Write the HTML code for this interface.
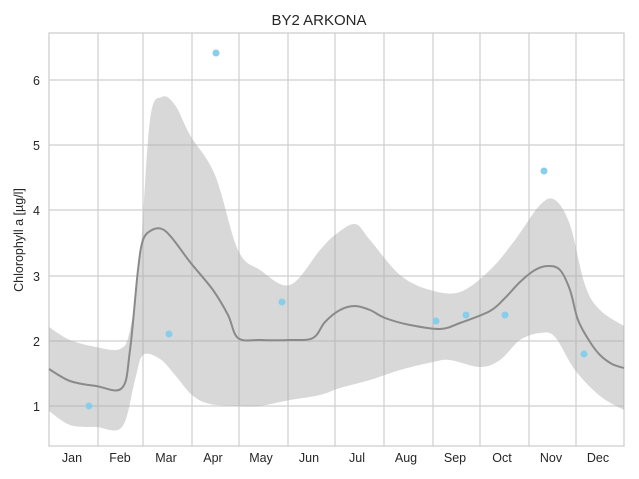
<!DOCTYPE html>
<html><head><meta charset="utf-8"><style>
body{margin:0;background:#fff;}
svg{display:block;font-family:"Liberation Sans",sans-serif;}
</style></head><body>
<svg id="s" width="639" height="479" xmlns="http://www.w3.org/2000/svg">
<rect width="639" height="479" fill="#fff"/>
<text x="319" y="25" font-size="15" text-anchor="middle" fill="#262626">BY2 ARKONA</text>
<g stroke="#cfcfcf" stroke-width="1.2">
<line x1="49" y1="406" x2="624" y2="406"/><line x1="49" y1="341" x2="624" y2="341"/>
<line x1="49" y1="276" x2="624" y2="276"/><line x1="49" y1="210" x2="624" y2="210"/>
<line x1="49" y1="145" x2="624" y2="145"/><line x1="49" y1="80" x2="624" y2="80"/>
<line x1="98" y1="33" x2="98" y2="446"/><line x1="143" y1="33" x2="143" y2="446"/>
<line x1="192" y1="33" x2="192" y2="446"/><line x1="239" y1="33" x2="239" y2="446"/>
<line x1="288" y1="33" x2="288" y2="446"/><line x1="335" y1="33" x2="335" y2="446"/>
<line x1="384" y1="33" x2="384" y2="446"/><line x1="433" y1="33" x2="433" y2="446"/>
<line x1="480" y1="33" x2="480" y2="446"/><line x1="529" y1="33" x2="529" y2="446"/>
<line x1="576" y1="33" x2="576" y2="446"/>
</g>
<rect x="49" y="33" width="575" height="413" fill="none" stroke="#cacaca" stroke-width="1.2"/>
<path id="band" fill="#a8a8a8" fill-opacity="0.45" d=""/>
<path id="mean" fill="none" stroke="#8a8a8a" stroke-width="2" d=""/>
<g fill="#87ceeb">
<circle cx="89" cy="406" r="3.5"/><circle cx="169" cy="334" r="3.5"/><circle cx="216" cy="53" r="3.5"/>
<circle cx="282" cy="302" r="3.5"/><circle cx="436" cy="321" r="3.5"/><circle cx="466" cy="315" r="3.5"/>
<circle cx="505" cy="315" r="3.5"/><circle cx="544" cy="171" r="3.5"/><circle cx="584" cy="354" r="3.5"/>
</g>
<g font-size="12.5" fill="#262626" text-anchor="end">
<text x="40" y="411">1</text><text x="40" y="346">2</text><text x="40" y="281">3</text>
<text x="40" y="215">4</text><text x="40" y="150">5</text><text x="40" y="85">6</text>
</g>
<g font-size="12.5" fill="#262626" text-anchor="middle">
<text x="72" y="462">Jan</text><text x="120" y="462">Feb</text><text x="166" y="462">Mar</text>
<text x="213" y="462">Apr</text><text x="261" y="462">May</text><text x="309" y="462">Jun</text>
<text x="357" y="462">Jul</text><text x="406" y="462">Aug</text><text x="455" y="462">Sep</text>
<text x="502" y="462">Oct</text><text x="551" y="462">Nov</text><text x="598" y="462">Dec</text>
</g>
<text transform="translate(23,240) rotate(-90)" font-size="12.5" fill="#262626" text-anchor="middle">Chlorophyll a [µg/l]</text>
</svg>
<script>
function sm(p){var d="M"+p[0][0]+","+p[0][1];for(var i=0;i<p.length-1;i++){var a=p[i-1]||p[i],b=p[i],c=p[i+1],e=p[i+2]||c;
d+=" C"+(b[0]+(c[0]-a[0])/6).toFixed(1)+","+(b[1]+(c[1]-a[1])/6).toFixed(1)+" "+(c[0]-(e[0]-b[0])/6).toFixed(1)+","+(c[1]-(e[1]-b[1])/6).toFixed(1)+" "+c[0]+","+c[1];}return d;}
var up=[[49,327],[70,340],[96,347],[120,349],[130,330],[140,260],[150,120],[162,97],[175,105],[190,135],[215,175],[238,250],[260,270],[290,285],[320,250],[335,235],[355,224],[370,240],[400,275],[430,290],[460,292],[490,270],[515,240],[540,205],[555,200],[570,225],[585,285],[600,310],[624,326]];
var lo=[[49,411],[70,425],[96,427],[122,427],[135,380],[143,355],[160,359],[175,375],[192,395],[210,404],[238,406],[260,406],[290,400],[320,395],[340,388],[370,380],[400,370],[433,362],[450,360],[480,367],[500,360],[520,340],[540,333],[555,337],[575,370],[600,396],[624,410]];
var mn=[[49,369],[70,381],[96,386],[122,388],[130,350],[138,270],[143,240],[152,230],[162,229],[172,238],[190,262],[213,290],[228,315],[238,338],[260,340],[290,340],[313,338],[325,322],[340,310],[355,306],[370,310],[385,318],[410,325],[440,329],[460,323],[490,311],[505,298],[520,282],[535,270],[548,266],[560,270],[570,290],[578,320],[590,342],[600,355],[612,364],[624,368]];
var lr=lo.slice().reverse();
document.getElementById("band").setAttribute("d",sm(up)+" L"+sm(lr).slice(1)+" Z");
document.getElementById("mean").setAttribute("d",sm(mn));
</script>
</body></html>
